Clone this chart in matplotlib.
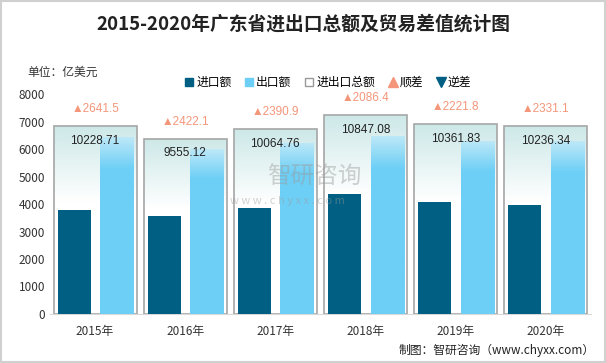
import matplotlib.pyplot as plt
import numpy as np
from matplotlib.colors import to_rgba
from matplotlib.lines import Line2D
from matplotlib.patches import Rectangle

plt.rcParams["font.family"] = ["Noto Sans CJK SC", "DejaVu Sans"]

# data (亿美元)
YEARS = ["2015年", "2016年", "2017年", "2018年", "2019年", "2020年"]
IMPORTS = [3793.6, 3566.5, 3836.9, 4380.3, 4070.0, 3952.6]
EXPORTS = [6435.1, 5988.6, 6227.8, 6466.7, 6291.8, 6283.7]
TOTALS = [10228.71, 9555.12, 10064.76, 10847.08, 10361.83, 10236.34]
BALANCE = [2641.5, 2422.1, 2390.9, 2086.4, 2221.8, 2331.1]

C_IMPORT = "#005f82"
C_EXPORT = "#6dcff6"
C_BOX = "#a6a6a6"
C_SURPLUS = "#f4967a"
C_DEFICIT = "#005f82"


def gradient_fill(ax, bar, top_rgb, bottom_rgb, frac, zorder):
    """Paint a vertical gradient inside a bar patch (top -> bottom over frac)."""
    n = 200
    t = np.linspace(0, 1, n)
    w = np.clip(t / frac, 0, 1)[:, None]
    top = np.array(to_rgba(top_rgb))
    bot = np.array(to_rgba(bottom_rgb))
    img = (top * (1 - w) + bot * w)[:, None, :]
    x0, y0 = bar.get_x(), bar.get_y()
    x1, y1 = x0 + bar.get_width(), y0 + bar.get_height()
    im = ax.imshow(img, extent=(x0, x1, y0, y1), aspect="auto",
                   origin="upper", zorder=zorder, interpolation="bilinear")
    im.set_clip_path(bar)


fig = plt.figure(figsize=(6.06, 3.63), dpi=100)
ax = fig.add_axes([0.0825, 0.135, 0.8925, 0.606])
ax_tot = ax.twinx()
ax.set_zorder(ax_tot.get_zorder() + 1)
ax.patch.set_visible(False)

x = np.arange(len(YEARS))

# total boxes on hidden secondary scale
boxes = ax_tot.bar(x, TOTALS, 0.92, facecolor="none", edgecolor=C_BOX,
                   linewidth=1.2, zorder=2)
for b in boxes:
    gradient_fill(ax_tot, b, "#cde8e8", "#ffffff", 0.4, 1)
ax_tot.set_ylim(0, 12000)
ax_tot.set_xlim(-0.5, len(YEARS) - 0.5)
ax_tot.axis("off")

ax.bar(x - 0.233, IMPORTS, 0.367, color=C_IMPORT, zorder=3)
exp_bars = ax.bar(x + 0.24, EXPORTS, 0.367, color=C_EXPORT, zorder=3)
for b in exp_bars:
    gradient_fill(ax, b, "#bde8f8", C_EXPORT, 0.18, 3.5)

num_font = ["Liberation Sans", "DejaVu Sans"]
for xi, tot, bal in zip(x, TOTALS, BALANCE):
    ax.annotate(f"{tot:.2f}", xy=(xi, tot), xycoords=ax_tot.transData,
                xytext=(0, -10.5), textcoords="offset points",
                ha="center", va="center", fontsize=8.5, color="#222222",
                zorder=6, fontfamily=num_font)
    ax.annotate(f"▲{bal}", xy=(xi, tot), xycoords=ax_tot.transData,
                xytext=(0, 8), textcoords="offset points",
                ha="center", va="bottom", fontsize=8.5, color=C_SURPLUS,
                zorder=6, fontfamily=num_font)

ax.set_xlim(-0.5, len(YEARS) - 0.5)
ax.set_ylim(0, 8000)
ax.set_yticks(range(0, 8001, 1000))
ax.set_xticks(x)
ax.set_xticklabels(YEARS, fontsize=8.5, color="#333333")
ax.tick_params(axis="y", labelsize=8.5, labelcolor="#333333", length=0)
ax.tick_params(axis="x", length=0, pad=8)
for s in ["top", "right", "left"]:
    ax.spines[s].set_visible(False)
ax.spines["bottom"].set_color("#d9d9d9")

# legend
handles = [
    Line2D([], [], marker="s", ls="", color=C_IMPORT, markersize=6),
    Line2D([], [], marker="s", ls="", color=C_EXPORT, markersize=6),
    Line2D([], [], marker="s", ls="", markerfacecolor="white",
           markeredgecolor="#999999", markersize=6),
    Line2D([], [], marker="^", ls="", color=C_SURPLUS, markersize=7),
    Line2D([], [], marker="v", ls="", color=C_DEFICIT, markersize=7),
]
labels = ["进口额", "出口额", "进出口总额", "顺差", "逆差"]
fig.legend(handles, labels, loc="center", bbox_to_anchor=(0.54, 0.773),
           ncol=5, frameon=False, fontsize=8.5, handletextpad=0.1,
           columnspacing=1.0, handlelength=1.0)

fig.text(0.5, 0.935, "2015-2020年广东省进出口总额及贸易差值统计图",
         ha="center", va="center", fontsize=13.5, fontweight="bold",
         color="#222222")
fig.text(0.045, 0.8, "单位：亿美元", ha="left", va="center", fontsize=8.5,
         color="#333333")
fig.text(0.982, 0.035, "制图：智研咨询（www.chyxx.com）", ha="right",
         va="center", fontsize=8.5, color="#222222")

# watermark
fig.text(0.44, 0.51, "智研咨询", ha="left", va="center", fontsize=17,
         color="#9a9a9a", alpha=0.45, zorder=10)
fig.text(0.38, 0.445, "w w w . c h y x x . c o m", ha="left", va="center",
         fontsize=8, color="#9a9a9a", alpha=0.45, zorder=10)

fig.patches.append(Rectangle((0.002, 0.003), 0.996, 0.994,
                             transform=fig.transFigure, fill=False,
                             edgecolor="#d0d0d0", linewidth=1.5))

fig.savefig("out.png", dpi=100)
